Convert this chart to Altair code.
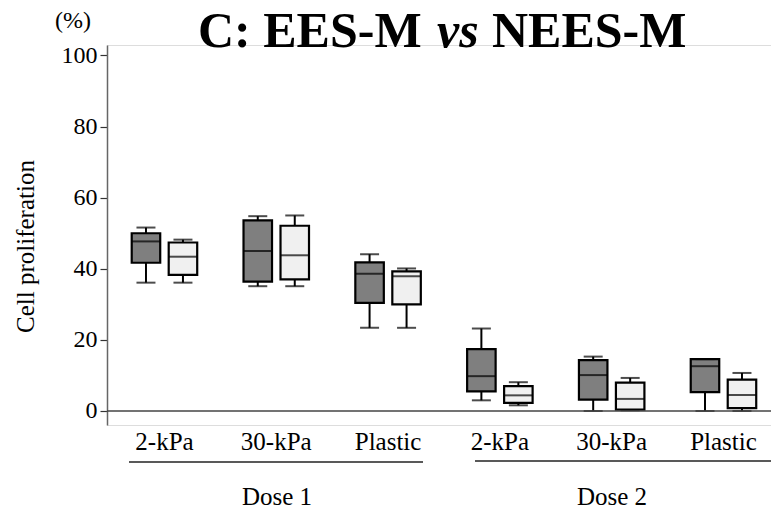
import altair as alt
import pandas as pd

# ---- data ----
doses = ["Dose 1"] * 3 + ["Dose 2"] * 3
substrates = ["2-kPa", "30-kPa", "Plastic", "2-kPa", "30-kPa", "Plastic"]

ees_lo = [36.1, 35.1, 23.4, 3.0, 0.0, 0.0]
ees_q1 = [41.7, 36.4, 30.4, 5.5, 3.2, 5.3]
ees_med = [47.7, 45.0, 38.6, 9.8, 10.1, 12.6]
ees_q3 = [50.0, 53.6, 41.8, 17.4, 14.3, 14.6]
ees_hi = [51.6, 54.8, 44.1, 23.2, 15.3, 14.6]

nees_lo = [36.1, 35.1, 23.4, 1.6, 0.2, 0.0]
nees_q1 = [38.3, 37.0, 30.0, 2.3, 0.4, 0.8]
nees_med = [43.4, 43.8, 37.9, 4.4, 3.4, 4.5]
nees_q3 = [47.4, 52.1, 39.3, 7.0, 8.0, 8.8]
nees_hi = [48.2, 55.0, 40.1, 8.1, 9.3, 10.7]

y_ticks = [0, 20, 40, 60, 80, 100]

rows = []
for grp, lo, q1, med, q3, hi in [
    ("EES-M", ees_lo, ees_q1, ees_med, ees_q3, ees_hi),
    ("NEES-M", nees_lo, nees_q1, nees_med, nees_q3, nees_hi),
]:
    for i in range(6):
        rows.append({
            "cat": f"{doses[i]}|{substrates[i]}",
            "group": grp,
            "lo": lo[i], "q1": q1[i], "med": med[i], "q3": q3[i], "hi": hi[i],
        })
df = pd.DataFrame(rows)
cats = [f"{d}|{s}" for d, s in zip(doses, substrates)]

FONT = "Liberation Serif"
W, H = 664, 380

x_enc = alt.X(
    "cat:N", sort=cats,
    scale=alt.Scale(paddingInner=0.3, paddingOuter=0.1195, align=0.686),
    axis=alt.Axis(
        title=None, domain=False, ticks=False, labelAngle=0,
        labelExpr="split(datum.label, '|')[1]",
        labelFont=FONT, labelFontSize=25, labelColor="black",
        labelPadding=4, labelBaseline="top",
    ),
)
xo_enc = alt.XOffset(
    "group:N", sort=["EES-M", "NEES-M"],
    scale=alt.Scale(paddingInner=0, paddingOuter=0.058),
)
y_scale = alt.Scale(domain=[-3.94, 102.95], nice=False, zero=False)
color_scale = alt.Scale(domain=["EES-M", "NEES-M"], range=["#7f7f7f", "#f0f0f0"])

base = alt.Chart(df)

whisk = base.mark_rule(color="black", strokeWidth=2).encode(
    x=x_enc, xOffset=xo_enc,
    y=alt.Y("lo:Q", scale=y_scale, axis=alt.Axis(
        values=y_ticks, title="Cell proliferation", grid=False,
        domainColor="#666666", domainWidth=1.5,
        tickColor="#333333", tickSize=7, tickWidth=1.2,
        labelFont=FONT, labelFontSize=24, labelColor="black", labelPadding=3,
        titleFont=FONT, titleFontSize=25, titleFontWeight="normal", titleColor="black",
        titleAngle=-90, titleX=-82, titleY=201, titleAlign="center", titleBaseline="middle",
    )),
    y2="hi:Q",
)

boxes = base.mark_bar(width=28.5, stroke="black", strokeWidth=2.2).encode(
    x=x_enc, xOffset=xo_enc,
    y=alt.Y("q1:Q", scale=y_scale),
    y2="q3:Q",
    fill=alt.Fill("group:N", scale=color_scale, legend=None),
)

median = base.mark_tick(color="black", size=28.5, thickness=2).encode(
    x=x_enc, xOffset=xo_enc, y=alt.Y("med:Q", scale=y_scale),
)
cap_lo = base.mark_tick(color="black", size=19, thickness=2).encode(
    x=x_enc, xOffset=xo_enc, y=alt.Y("lo:Q", scale=y_scale),
)
cap_hi = base.mark_tick(color="black", size=19, thickness=2).encode(
    x=x_enc, xOffset=xo_enc, y=alt.Y("hi:Q", scale=y_scale),
)

zero_df = pd.DataFrame({"v": [0]})
baseline = alt.Chart(zero_df).mark_rule(color="#444444", strokeWidth=1.5).encode(
    y=alt.Y("v:Q", scale=y_scale),
    x=alt.value(0), x2=alt.value(W),
)

one = pd.DataFrame({"a": [1]})
def txt(t, x, y, size=24, weight="normal", style="normal", align="center"):
    return alt.Chart(one).mark_text(
        text=t, font=FONT, fontSize=size, fontWeight=weight, fontStyle=style,
        align=align, baseline="alphabetic", color="black",
    ).encode(x=alt.value(x), y=alt.value(y))

def hline(x1, x2, y):
    return alt.Chart(one).mark_rule(color="#222222", strokeWidth=1.5).encode(
        x=alt.value(x1), x2=alt.value(x2), y=alt.value(y)
    )

decor = [
    txt("C: EES-M", 91, 2, size=50, weight="bold", align="left"),
    txt("vs", 330, 2, size=50, weight="bold", style="italic", align="left"),
    txt("NEES-M", 385, 2, size=50, weight="bold", align="left"),
    txt("(%)", -34, -17),
    hline(22, 316, 417),
    hline(368, 664, 416),
    txt("Dose 1", 170, 460, size=25),
    txt("Dose 2", 505, 460, size=25),
]

chart = alt.layer(whisk, boxes, median, cap_lo, cap_hi, baseline, *decor).properties(
    width=W, height=H,
    autosize=alt.AutoSizeParams(type="none"),
    padding={"left": 107, "top": 45, "right": 0, "bottom": 86},
).configure_view(stroke=None).configure(background="white")

chart.save("out.html", embed_options={"renderer": "svg", "actions": False})
